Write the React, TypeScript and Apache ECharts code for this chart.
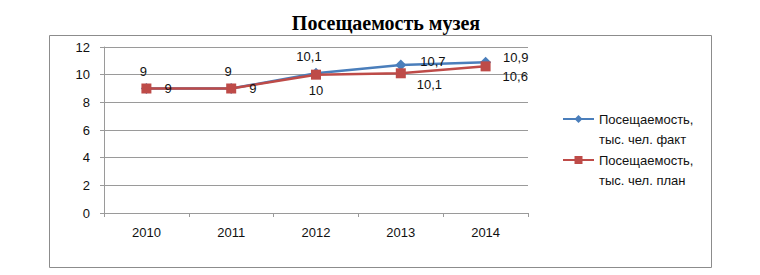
import React, { useEffect, useRef } from "react";
import * as echarts from "echarts";

const title = "Посещаемость музея";
const years = ["2010", "2011", "2012", "2013", "2014"];
const factName = "Посещаемость, тыс. чел. факт";
const planName = "Посещаемость, тыс. чел. план";
const factValues = [9, 9, 10.1, 10.7, 10.9];
const planValues = [9, 9, 10, 10.1, 10.6];

// label placement (style only)
const factLabelPos = [
  { position: "top", distance: 5, offset: [-3, 0] },
  { position: "top", distance: 5, offset: [-3, 0] },
  { position: "top", distance: 5, offset: [-7, 0] },
  { position: "right", distance: 14, offset: [0, -3] },
  { position: "right", distance: 12, offset: [0, -5] },
];
const planLabelPos = [
  { position: "right", distance: 13, offset: [0, 0] },
  { position: "right", distance: 13, offset: [0, 0] },
  { position: "bottom", distance: 4, offset: [0, 0] },
  { position: "right", distance: 11, offset: [0, 11] },
  { position: "right", distance: 12, offset: [0, 10] },
];

const FONT = "Liberation Sans";
const fmt = (v: number) => String(v).replace(".", ",");

export default function App() {
  const ref = useRef<HTMLDivElement>(null);
  useEffect(() => {
    document.body.style.margin = "0";
    const chart = echarts.init(ref.current!, null, { renderer: "svg" });
    const mk = (vals: number[], pos: any[]) =>
      vals.map((v, i) => ({
        value: v,
        label: { position: pos[i].position, distance: pos[i].distance, offset: pos[i].offset },
      }));
    chart.setOption({
      animation: false,
      backgroundColor: "#fff",
      title: {
        text: title,
        left: 381,
        top: 8,
        textAlign: "center",
        textStyle: { fontFamily: "Liberation Serif", fontWeight: "bold", fontSize: 20, color: "#000" },
      },
      graphic: [
        {
          type: "rect",
          shape: { x: 49.5, y: 35.5, width: 662, height: 232 },
          style: { fill: "none", stroke: "#8c8c8c", lineWidth: 1 },
          silent: true,
        },
      ],
      grid: { left: 104, top: 47, right: 232, bottom: 62 },
      xAxis: {
        type: "category",
        data: years,
        boundaryGap: true,
        axisLine: { lineStyle: { color: "#9a9a9a", width: 1 } },
        axisTick: { show: true, length: 4, lineStyle: { color: "#9a9a9a" } },
        axisLabel: { fontFamily: FONT, fontSize: 13, color: "#111", margin: 13 },
      },
      yAxis: {
        type: "value",
        min: 0,
        max: 12,
        interval: 2,
        axisLine: { show: true, lineStyle: { color: "#9a9a9a", width: 1 } },
        axisTick: { show: true, length: 4, lineStyle: { color: "#9a9a9a" } },
        splitLine: { lineStyle: { color: "#9a9a9a", width: 1 } },
        axisLabel: { fontFamily: FONT, fontSize: 13, color: "#111", margin: 14 },
      },
      legend: {
        orient: "vertical",
        left: 562,
        top: 89,
        padding: 0,
        itemGap: -19,
        itemWidth: 31,
        itemHeight: 10,
        data: [factName, planName],
        formatter: (n: string) => "\n" + n.replace(", ", ",\n"),
        textStyle: {
          fontFamily: FONT,
          fontSize: 13,
          color: "#111",
          lineHeight: 20,
        },
      },
      series: [
        {
          name: factName,
          type: "line",
          data: mk(factValues, factLabelPos),
          symbol: "diamond",
          symbolSize: 11,
          lineStyle: { color: "#4A7EBB", width: 2.5 },
          itemStyle: { color: "#4A7EBB" },
          label: {
            show: true,
            fontFamily: FONT,
            fontSize: 13,
            color: "#111",
            formatter: (p: any) => fmt(p.value),
          },
          z: 3,
        },
        {
          name: planName,
          type: "line",
          data: mk(planValues, planLabelPos),
          symbol: "rect",
          symbolSize: 10,
          lineStyle: { color: "#BE4B48", width: 2.5 },
          itemStyle: { color: "#BE4B48" },
          label: {
            show: true,
            fontFamily: FONT,
            fontSize: 13,
            color: "#111",
            formatter: (p: any) => fmt(p.value),
          },
          z: 4,
        },
      ],
    });
    return () => chart.dispose();
  }, []);
  return <div ref={ref} style={{ width: 760, height: 275 }} />;
}
